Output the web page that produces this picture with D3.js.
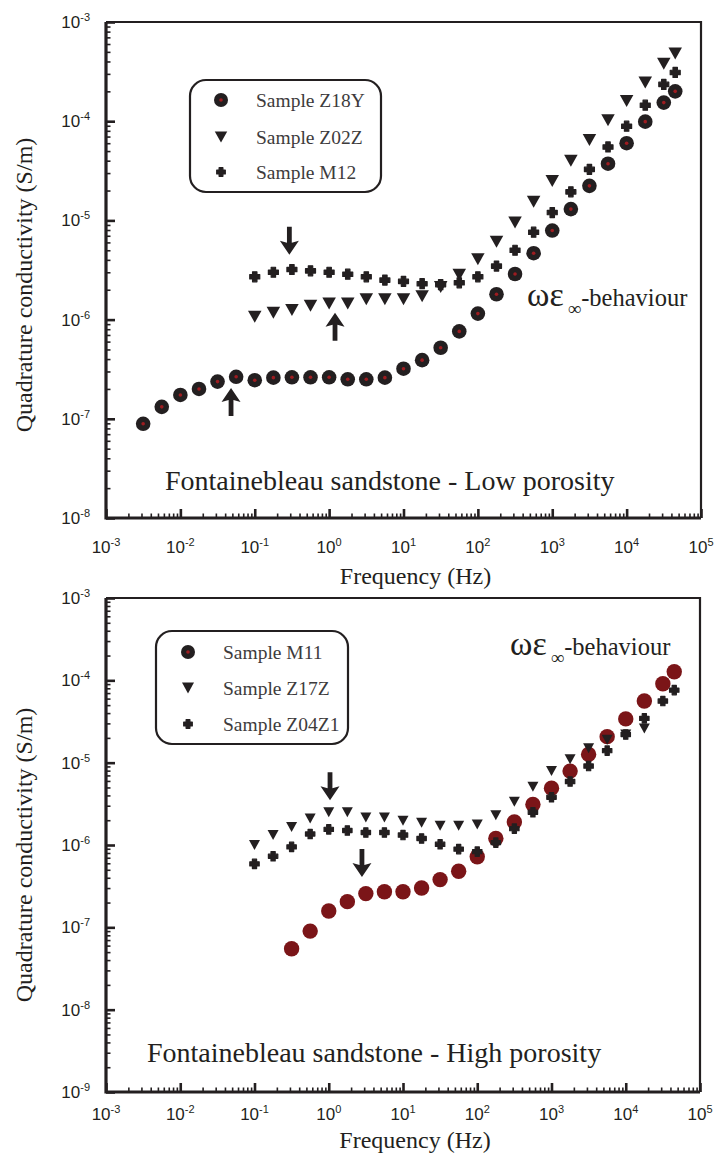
<!DOCTYPE html>
<html>
<head>
<meta charset="utf-8">
<script src="https://cdn.jsdelivr.net/npm/d3@7"></script>
<style>
  body { margin: 0; background: #fff; }
  svg text { fill: #231f20; }
  .serif { font-family: 'Liberation Serif', 'DejaVu Serif', serif; }
  .sans { font-family: 'Liberation Sans', 'DejaVu Sans', sans-serif; }
</style>
</head>
<body>
<svg id="viz" width="718" height="1157"></svg>
<script>
// measurement frequencies (Hz)
var freq = [0.00316, 0.00562, 0.01, 0.0178, 0.0316, 0.0562, 0.1, 0.178, 0.316, 0.562,
  1, 1.78, 3.16, 5.62, 10, 17.8, 31.6, 56.2, 100, 178, 316, 562,
  1000, 1780, 3160, 5620, 10000, 17800, 31600, 45000];

// low porosity samples (S/m)
var z18y = [8.9e-8, 1.32e-7, 1.74e-7, 2.0e-7, 2.37e-7, 2.65e-7, 2.45e-7, 2.6e-7, 2.62e-7, 2.62e-7,
  2.62e-7, 2.5e-7, 2.5e-7, 2.6e-7, 3.2e-7, 3.9e-7, 5.2e-7, 7.6e-7, 1.15e-6, 1.8e-6,
  2.88e-6, 4.67e-6, 7.9e-6, 1.3e-5, 2.23e-5, 3.73e-5, 6.0e-5, 9.9e-5, 1.54e-4, 2.0e-4];
var z02z = [1.07e-6, 1.17e-6, 1.25e-6, 1.38e-6, 1.45e-6, 1.45e-6, 1.6e-6, 1.6e-6, 1.6e-6, 1.72e-6,
  2.13e-6, 2.83e-6, 4.07e-6, 6.1e-6, 9.5e-6, 1.54e-5, 2.5e-5, 4.0e-5, 6.45e-5, 1.02e-4,
  1.6e-4, 2.45e-4, 3.8e-4, 4.8e-4];
var m12 = [2.7e-6, 3.0e-6, 3.2e-6, 3.1e-6, 3.0e-6, 2.87e-6, 2.7e-6, 2.5e-6, 2.43e-6, 2.3e-6,
  2.25e-6, 2.35e-6, 2.7e-6, 3.46e-6, 5.0e-6, 7.6e-6, 1.2e-5, 1.94e-5, 3.27e-5, 5.5e-5,
  8.9e-5, 1.45e-4, 2.35e-4, 3.1e-4];

// high porosity samples (S/m)
var m11 = [5.5e-8, 9.0e-8, 1.58e-7, 2.05e-7, 2.57e-7, 2.7e-7, 2.7e-7, 3.0e-7, 3.8e-7, 4.8e-7,
  7.2e-7, 1.2e-6, 1.9e-6, 3.1e-6, 4.9e-6, 7.9e-6, 1.26e-5, 2.07e-5, 3.4e-5, 5.6e-5,
  9.1e-5, 1.27e-4];
var z17z = [1.0e-6, 1.32e-6, 1.66e-6, 2.1e-6, 2.5e-6, 2.5e-6, 2.16e-6, 2.16e-6, 1.97e-6, 1.86e-6,
  1.71e-6, 1.71e-6, 1.78e-6, 2.3e-6, 3.35e-6, 5.1e-6, 7.9e-6, 1.1e-5, 1.5e-5, 1.9e-5,
  2.2e-5, 2.6e-5];
var z04z1 = [5.9e-7, 7.3e-7, 9.5e-7, 1.36e-6, 1.55e-6, 1.5e-6, 1.42e-6, 1.42e-6, 1.32e-6, 1.2e-6,
  1.02e-6, 8.9e-7, 8.3e-7, 1.07e-6, 1.58e-6, 2.5e-6, 3.8e-6, 5.9e-6, 9.1e-6, 1.4e-5,
  2.2e-5, 3.45e-5, 5.6e-5, 7.6e-5];

// axis ticks
var xTickExp = [-3, -2, -1, 0, 1, 2, 3, 4, 5];
var yTickExpLow = [-8, -7, -6, -5, -4, -3];
var yTickExpHigh = [-9, -8, -7, -6, -5, -4, -3];

// arrows: [frequency, value at tip, direction]
var arrowsLow = [[0.292, 4.5e-6, 'down'], [1.2, 1.17e-6, 'up'], [0.048, 2.04e-7, 'up']];
var arrowsHigh = [[1.04, 3.5e-6, 'down'], [2.8, 4.1e-7, 'down']];

var svg = d3.select('#viz');
var ink = '#231f20';

function triPath(w, h) {
  return 'M' + (-w / 2) + ',' + (-h / 2) + 'L' + (w / 2) + ',' + (-h / 2) + 'L0,' + (h / 2) + 'Z';
}
function crossPath(s, t) {
  return 'M' + -t + ',' + -s + 'H' + t + 'V' + -t + 'H' + s + 'V' + t + 'H' + t + 'V' + s +
    'H' + -t + 'V' + t + 'H' + -s + 'V' + -t + 'H' + -t + 'Z';
}

// marker drawers
function drawDotCircle(g, r) {
  g.append('circle').attr('r', r).attr('fill', ink);
  g.append('circle').attr('r', 1.8).attr('fill', '#9e1c20');
}
function drawRedCircle(g, r) {
  g.append('circle').attr('r', r).attr('fill', '#7b1518');
}
function drawTri(g, w, h) {
  g.append('path').attr('d', triPath(w, h)).attr('fill', ink);
}
function drawCross(g, s, t) {
  g.append('path').attr('d', crossPath(s, t)).attr('fill', ink)
    .attr('stroke', ink).attr('stroke-width', 1.2).attr('stroke-linejoin', 'round');
}

function drawPanel(p) {
  var x = d3.scaleLog().domain([1e-3, 1e5]).range([p.left, p.right]);
  var y = d3.scaleLog().domain([p.yMin, 1e-3]).range([p.bottom, p.top]);
  var g = svg.append('g');

  var isMajor = function (d) {
    var l = Math.log10(d);
    return Math.abs(l - Math.round(l)) < 1e-6;
  };
  var xMinor = x.ticks().filter(function (d) { return !isMajor(d); });
  var yMinor = y.ticks().filter(function (d) { return !isMajor(d); });
  var xMajor = xTickExp.map(function (e) { return Math.pow(10, e); });
  var yMajor = p.yExp.map(function (e) { return Math.pow(10, e); });

  // bottom axis ticks (inward)
  g.append('g').attr('transform', 'translate(0,' + p.bottom + ')')
    .call(d3.axisBottom(x).tickValues(xMinor).tickSize(-4.5).tickSizeOuter(0).tickFormat(''))
    .call(function (a) { a.select('.domain').remove(); a.selectAll('line').attr('stroke', ink).attr('stroke-width', 1.6); });
  g.append('g').attr('transform', 'translate(0,' + p.bottom + ')')
    .call(d3.axisBottom(x).tickValues(xMajor).tickSize(-9).tickSizeOuter(0).tickFormat(''))
    .call(function (a) { a.select('.domain').remove(); a.selectAll('line').attr('stroke', ink).attr('stroke-width', 2.6); });

  // left axis ticks (inward)
  g.append('g').attr('transform', 'translate(' + p.left + ',0)')
    .call(d3.axisLeft(y).tickValues(yMinor).tickSize(-4.5).tickSizeOuter(0).tickFormat(''))
    .call(function (a) { a.select('.domain').remove(); a.selectAll('line').attr('stroke', ink).attr('stroke-width', 1.6); });
  g.append('g').attr('transform', 'translate(' + p.left + ',0)')
    .call(d3.axisLeft(y).tickValues(yMajor).tickSize(-9).tickSizeOuter(0).tickFormat(''))
    .call(function (a) { a.select('.domain').remove(); a.selectAll('line').attr('stroke', ink).attr('stroke-width', 2.6); });

  // frame
  g.append('path')
    .attr('d', 'M' + p.left + ',' + p.top + 'H' + p.right + 'V' + p.bottom)
    .attr('fill', 'none').attr('stroke', ink).attr('stroke-width', 2.2);
  g.append('path')
    .attr('d', 'M' + p.left + ',' + p.top + 'V' + p.bottom + 'H' + p.right)
    .attr('fill', 'none').attr('stroke', ink).attr('stroke-width', 3.2);

  // tick labels
  xTickExp.forEach(function (e) {
    var t = g.append('text').attr('class', 'sans').attr('x', x(Math.pow(10, e))).attr('y', p.xLabelY)
      .attr('text-anchor', 'middle').style('font-size', '17px');
    t.append('tspan').text('10');
    t.append('tspan').attr('dy', -7).style('font-size', '11px').text(e);
  });
  p.yExp.forEach(function (e) {
    var t = g.append('text').attr('class', 'sans').attr('x', p.left - 16).attr('y', y(Math.pow(10, e)) + 6)
      .attr('text-anchor', 'end').style('font-size', '17px');
    t.append('tspan').text('10');
    t.append('tspan').attr('dy', -7).style('font-size', '11px').text(e);
  });

  // axis titles
  g.append('text').attr('class', 'serif').attr('x', (p.left + p.right) / 2 + 12).attr('y', p.xTitleY)
    .attr('text-anchor', 'middle').style('font-size', '24px')
    .text('Frequency (Hz)');
  g.append('text').attr('class', 'serif').attr('transform', 'translate(32,' + p.yTitleY + ') rotate(-90)')
    .attr('text-anchor', 'middle').style('font-size', '24px')
    .text('Quadrature conductivity (S/m)');

  // data
  p.series.forEach(function (s) {
    var pts = s.vals.map(function (v, i) { return [freq[s.start + i], v]; });
    g.append('g').selectAll('g').data(pts).join('g')
      .attr('transform', function (d) { return 'translate(' + x(d[0]) + ',' + y(d[1]) + ')'; })
      .each(function () { s.draw(d3.select(this)); });
  });

  // arrows
  p.arrows.forEach(function (a) {
    var ax = x(a[0]), tip = y(a[1]);
    var sgn = a[2] === 'down' ? -1 : 1; // tail direction from tip
    var len = 28, hl = 14, hw = 9.5, sw = 2.4;
    var d = 'M' + ax + ',' + tip +
      'L' + (ax + hw) + ',' + (tip + sgn * hl) +
      'L' + (ax + sw) + ',' + (tip + sgn * (hl - 2)) +
      'L' + (ax + sw) + ',' + (tip + sgn * len) +
      'L' + (ax - sw) + ',' + (tip + sgn * len) +
      'L' + (ax - sw) + ',' + (tip + sgn * (hl - 2)) +
      'L' + (ax - hw) + ',' + (tip + sgn * hl) + 'Z';
    g.append('path').attr('d', d).attr('fill', ink);
  });

  // legend
  var L = p.legend;
  g.append('rect').attr('x', L.x).attr('y', L.y).attr('width', L.w).attr('height', L.h)
    .attr('rx', 16).attr('fill', '#fff').attr('stroke', ink).attr('stroke-width', 2.2);
  p.series.forEach(function (s, i) {
    var cy = L.rows[i];
    var m = g.append('g').attr('transform', 'translate(' + L.mx + ',' + cy + ')');
    s.legendDraw(m);
    g.append('text').attr('class', 'serif').attr('x', L.tx).attr('y', cy + 7)
      .style('font-size', '19.5px').style('fill', '#3d3b3c')
      .text(s.label);
  });

  // annotations
  g.append('text').attr('class', 'serif').attr('x', p.caption[0]).attr('y', p.caption[1])
    .style('font-size', '28px').text(p.captionText);
  var w = g.append('text').attr('class', 'serif').attr('x', p.omega[0]).attr('y', p.omega[1])
    .style('font-size', '24.5px');
  w.append('tspan').style('font-size', '34px').text('ωε');
  w.append('tspan').attr('dx', 4).attr('dy', 9).style('font-size', '19px').text('∞');
  w.append('tspan').attr('dy', -9).text('-behaviour');
}

drawPanel({
  left: 106, right: 701, top: 22, bottom: 518, yMin: 1e-8, yExp: yTickExpLow,
  xLabelY: 553, xTitleY: 584, yTitleY: 285,
  series: [
    { vals: z18y, start: 0, label: 'Sample Z18Y',
      draw: function (m) { drawDotCircle(m, 7.3); }, legendDraw: function (m) { drawDotCircle(m, 7); } },
    { vals: z02z, start: 6, label: 'Sample Z02Z',
      draw: function (m) { drawTri(m, 13.5, 12); }, legendDraw: function (m) { drawTri(m, 12.5, 11); } },
    { vals: m12, start: 6, label: 'Sample M12',
      draw: function (m) { drawCross(m, 5, 2.2); }, legendDraw: function (m) { drawCross(m, 4.3, 1.9); } }
  ],
  arrows: arrowsLow,
  legend: { x: 190, y: 80, w: 191, h: 112, mx: 221, tx: 256, rows: [100, 137, 172] },
  caption: [165, 490], captionText: 'Fontainebleau sandstone - Low porosity',
  omega: [527, 306]
});

drawPanel({
  left: 106, right: 700, top: 598, bottom: 1092, yMin: 1e-9, yExp: yTickExpHigh,
  xLabelY: 1120, xTitleY: 1148, yTitleY: 855,
  series: [
    { vals: m11, start: 8, label: 'Sample M11',
      draw: function (m) { drawRedCircle(m, 7.7); }, legendDraw: function (m) { drawDotCircle(m, 7); } },
    { vals: z17z, start: 6, label: 'Sample Z17Z',
      draw: function (m) { drawTri(m, 11, 10); }, legendDraw: function (m) { drawTri(m, 12, 11); } },
    { vals: z04z1, start: 6, label: 'Sample Z04Z1',
      draw: function (m) { drawCross(m, 4.7, 2.1); }, legendDraw: function (m) { drawCross(m, 4.3, 1.9); } }
  ],
  arrows: arrowsHigh,
  legend: { x: 156, y: 631, w: 192, h: 113, mx: 188, tx: 223, rows: [652, 688, 724] },
  caption: [147, 1062], captionText: 'Fontainebleau sandstone - High porosity',
  omega: [510, 655]
});
</script>
</body>
</html>
